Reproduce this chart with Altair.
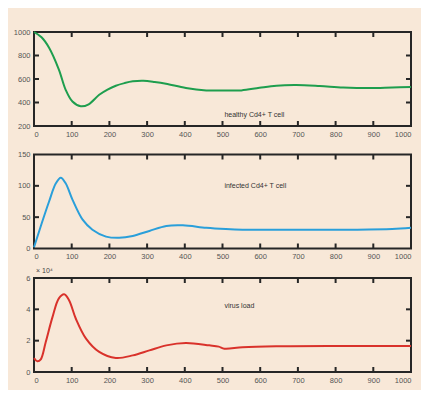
import altair as alt
import pandas as pd

# ---- data ----
time_h = [0, 20, 40, 66, 84, 102, 124, 145, 173, 195, 217, 240, 262, 290, 320, 350,
          403, 457, 500, 550, 598, 643, 696, 758, 820, 891, 950, 1000]
healthy = [1000, 955, 866, 680, 508, 408, 368, 385, 466, 510, 543, 565, 580, 585, 575, 560,
           523, 503, 502, 503, 525, 543, 548, 540, 528, 523, 528, 532]

time_i = [0, 22, 40, 58, 71, 84, 102, 129, 155, 191, 226, 262, 306, 351, 395, 457,
          509, 553, 650, 750, 850, 950, 1000]
infected = [2, 43, 75, 104, 113, 104, 78, 46, 30, 19, 17, 20, 28, 36, 37, 33,
            31, 30, 30, 30, 30, 31, 33]

time_v = [0, 9, 18, 31, 49, 66, 80, 93, 111, 138, 173, 217, 262, 306, 351, 403,
          465, 490, 505, 553, 642, 820, 1000]
virus = [0.89, 0.68, 0.81, 1.9, 3.5, 4.7, 4.96, 4.58, 3.4, 2.13, 1.28, 0.9, 1.06, 1.38, 1.7, 1.85,
         1.7, 1.62, 1.49, 1.58, 1.64, 1.66, 1.66]

x_ticks = [0, 100, 200, 300, 400, 500, 600, 700, 800, 900, 1000]
x_inner = [100, 200, 300, 400, 500, 600, 700, 800, 900]
h_ticks = [200, 400, 600, 800, 1000]
h_inner = [400, 600, 800]
i_ticks = [0, 50, 100, 150]
i_inner = [50, 100]
v_ticks = [0, 2, 4, 6]
v_inner = [2, 4]

labels = ["healthy Cd4+ T cell", "infected Cd4+ T cell", "virus load"]

W = 377
H = 94
FRAME = "#262626"
BG = "#F8E8D8"
FONT = "Liberation Sans"


def panel(times, vals, color, ydomain, yticks, yinner, label, label_xy,
          note=None, note_color="#444444", note_y=-8):
    xs = alt.Scale(domain=[0, 1000], nice=False, zero=False)
    ys = alt.Scale(domain=ydomain, nice=False, zero=False)
    xaxis = alt.Axis(values=x_ticks, format="d", labelOverlap=False, labelBound=False,
                     tickCount=len(x_ticks))
    yaxis = alt.Axis(values=yticks, format="d", labelOverlap=False, labelBound=False,
                     tickCount=len(yticks))
    X = alt.X("t:Q", scale=xs, axis=xaxis, title=None)
    Y = alt.Y("v:Q", scale=ys, axis=yaxis, title=None)
    df = pd.DataFrame({"t": times, "v": vals})
    line = alt.Chart(df).mark_line(color=color, strokeWidth=2, interpolate="catmull-rom").encode(
        x=X, y=Y)
    xt = pd.DataFrame({"t": x_inner})
    yt = pd.DataFrame({"v": yinner})
    tb = alt.Chart(xt).mark_rule(color=FRAME, strokeWidth=2).encode(
        x=X, y=alt.value(H), y2=alt.value(H - 5))
    tt = alt.Chart(xt).mark_rule(color=FRAME, strokeWidth=2).encode(
        x=X, y=alt.value(0), y2=alt.value(5))
    tl = alt.Chart(yt).mark_rule(color=FRAME, strokeWidth=2).encode(
        y=Y, x=alt.value(0), x2=alt.value(5))
    tr = alt.Chart(yt).mark_rule(color=FRAME, strokeWidth=2).encode(
        y=Y, x=alt.value(W - 5), x2=alt.value(W))
    ld = pd.DataFrame({"t": [label_xy[0]], "v": [label_xy[1]], "s": [label]})
    txt = alt.Chart(ld).mark_text(align="left", baseline="middle", fontSize=7, font=FONT,
                                  color="#333333").encode(x=X, y=Y, text="s:N")
    layers = [line, tb, tt, tl, tr, txt]
    if note is not None:
        nd = pd.DataFrame({"s": [note]})
        layers.append(alt.Chart(nd).mark_text(align="left", baseline="middle", fontSize=7,
                                              font=FONT, color=note_color).encode(
            x=alt.value(2), y=alt.value(note_y), text="s:N"))
    return alt.layer(*layers).properties(width=W, height=H)


p1 = panel(time_h, healthy, "#1E9E4E", [200, 1000], h_ticks, h_inner, labels[0], (505, 294))
p2 = panel(time_i, infected, "#2A9FDA", [0, 150], i_ticks, i_inner, labels[1], (505, 99),
           note="× 10⁴", note_color=BG, note_y=-5.5)
p3 = panel(time_v, virus, "#D9322B", [0, 6], v_ticks, v_inner, labels[2], (505, 4.19),
           note="× 10⁴", note_y=-7)

chart = alt.vconcat(p1, p2, p3, spacing=4.5).properties(
    background=BG,
    padding={"left": 4, "top": 19, "right": 5, "bottom": 5},
).configure_view(
    stroke=FRAME, strokeWidth=2
).configure_axis(
    ticks=False, domain=False, grid=False, labelFontSize=7.5, labelFont=FONT,
    labelColor="#555555", labelPadding=4, labelOverlap=False
)

chart.save("out.html", embed_options={"renderer": "svg", "actions": False})
